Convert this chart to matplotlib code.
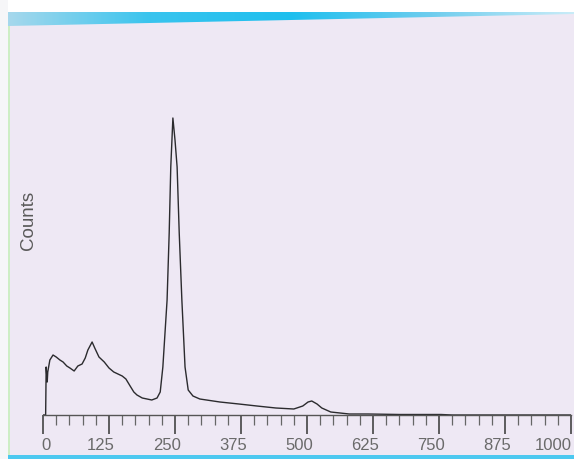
import matplotlib
matplotlib.use("Agg")
import matplotlib.pyplot as plt
import matplotlib.transforms as mtransforms
import numpy as np
from matplotlib.patches import Polygon, Rectangle
from matplotlib.colors import LinearSegmentedColormap

# spectrum (channel, counts)
channel = [0, 5, 6, 8, 9, 13, 19, 25, 32, 38, 45, 51, 59, 66, 74, 80, 85, 93, 98,
           106, 116, 125, 134, 142, 150, 157, 165, 172, 178, 188, 197, 206, 216,
           222, 227, 235, 239, 242, 246, 250, 254, 258, 263, 269, 275, 284, 297,
           335, 371, 405, 441, 475, 492, 502, 509, 519, 528, 545, 580, 616, 676,
           754, 775, 1000]
counts = [0, 0, 480, 330, 430, 550, 600, 580, 550, 530, 490, 470, 440, 490, 510,
          570, 650, 730, 670, 580, 530, 470, 430, 410, 390, 360, 290, 230, 200,
          170, 160, 150, 170, 230, 480, 1150, 1820, 2480, 2970, 2750, 2480, 1820,
          1150, 480, 250, 190, 160, 130, 110, 90, 70, 60, 90, 130, 140, 110, 70,
          30, 10, 10, 5, 5, 0, 0]

major_ticks = [0, 125, 250, 375, 500, 625, 750, 875, 1000]
minor_ticks = np.arange(0, 1001, 25)

W, H = 574, 459
bg = "#eee8f4"
fig = plt.figure(figsize=(W / 100, H / 100), dpi=100, facecolor=bg)

# screen frame bits from the photo
fig.patches.append(Rectangle((0, (H - 12) / H), 1, 12 / H, transform=fig.transFigure,
                             facecolor="white", edgecolor="none", zorder=0))
band = fig.add_axes([8 / W, (H - 26) / H, 1 - 8 / W, 14 / H])
grad = np.linspace(0, 1, 256)[None, :]
cmap = LinearSegmentedColormap.from_list("b", ["#a6d8ec", "#39c4ee", "#1ebfee", "#6fcdee", "#c9ecf8"])
band.imshow(grad, aspect="auto", cmap=cmap, extent=(0, 1, 0, 1))
band.add_patch(Polygon([(0, 0), (1, 0), (1, 0.85)], closed=True, facecolor=bg,
                       edgecolor="none"))
band.set_xlim(0, 1)
band.set_ylim(0, 1)
band.axis("off")
fig.patches.append(Rectangle((0, 0), 8 / W, 1, transform=fig.transFigure,
                             facecolor="#f6f6f8", edgecolor="none", zorder=0))
fig.patches.append(Rectangle((8 / W, 0), 2 / W, (H - 26) / H, transform=fig.transFigure,
                             facecolor="#cdeec4", edgecolor="none", zorder=0))
fig.patches.append(Rectangle((8 / W, 0), 1, 4 / H, transform=fig.transFigure,
                             facecolor="#4cc8f0", edgecolor="none", zorder=0))

ax = fig.add_axes([43 / W, 44 / H, 528 / W, 385 / H])
ax.set_facecolor("none")
ax.plot(channel, counts, color="#2b2b2e", lw=1.0)

ax.set_xlim(0, 1000)
ax.set_ylim(0, 3850)
for s in ["top", "right", "left"]:
    ax.spines[s].set_visible(False)
ax.spines["bottom"].set_color("#555555")
ax.spines["bottom"].set_linewidth(1.0)
ax.set_yticks([])
ax.set_xticks(major_ticks)
ax.set_xticks(minor_ticks, minor=True)
ax.set_xticklabels([])
ax.tick_params(axis="x", which="major", direction="out", length=13.5, width=1.2,
               color="#444444")
ax.tick_params(axis="x", which="minor", direction="out", length=7, width=0.9,
               color="#666666")

# tick labels sit a little left of their ticks in the photo
trans = mtransforms.blended_transform_factory(ax.transData, ax.transAxes)
for t in major_ticks:
    if t == 0:
        ax.text(t + 6, -0.06, str(t), transform=trans, ha="center", va="top",
                fontsize=12, color="#6a6a6a", family="Liberation Sans")
    elif t == 1000:
        ax.text(t + 2, -0.06, str(t), transform=trans, ha="right", va="top",
                fontsize=12, color="#6a6a6a", family="Liberation Sans")
    else:
        ax.text(t - 15, -0.06, str(t), transform=trans, ha="center", va="top",
                fontsize=12, color="#6a6a6a", family="Liberation Sans")

fig.text(28 / W, 1 - 220 / H, "Counts", rotation=90, ha="center", va="center",
         fontsize=13.5, color="#5a5a5a", family="Liberation Sans")

fig.savefig("out.png", dpi=100, facecolor=fig.get_facecolor())
